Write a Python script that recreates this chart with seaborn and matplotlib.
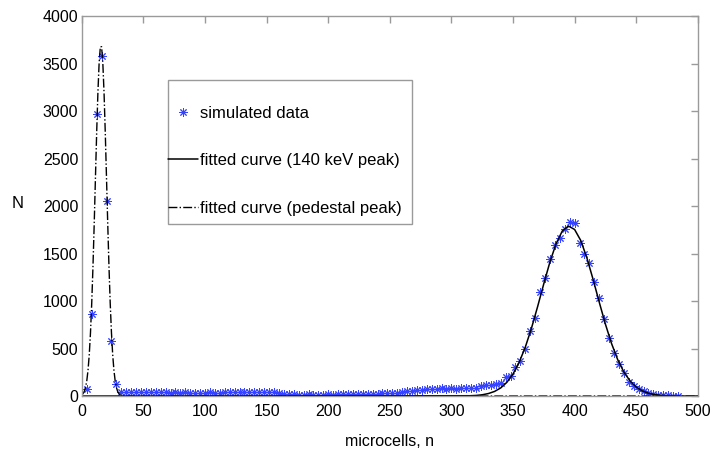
import numpy as np
import seaborn as sns
import matplotlib.pyplot as plt
from matplotlib.patches import Rectangle

# simulated spectrum, one value every 4 microcells (4 ... 484)
counts = [70, 860, 2975, 3585, 2050, 580, 127, 45, 38, 42,
          40, 44, 38, 40, 42, 39, 41, 37, 40, 36,
          38, 35, 37, 34, 36, 38, 35, 37, 39, 42,
          40, 44, 46, 43, 45, 41, 44, 40, 38, 33,
          26, 20, 18, 15, 14, 16, 13, 15, 14, 16,
          15, 17, 16, 18, 17, 19, 20, 22, 24, 26,
          28, 30, 33, 37, 42, 48, 55, 60, 66, 72,
          76, 78, 80, 77, 80, 78, 82, 85, 84, 88,
          105, 112, 115, 122, 134, 200, 210, 303, 374, 494,
          681, 822, 1093, 1245, 1446, 1587, 1661, 1757, 1834, 1827,
          1616, 1492, 1404, 1203, 1034, 812, 611, 452, 335, 247,
          151, 109, 71, 49, 28, 18, 12, 8, 6, 5,
          4]
microcells = np.arange(4, 4 * len(counts) + 4, 4)

# fitted curve, 140 keV photopeak
peak_x = [0, 315, 320, 325, 330, 335, 340, 345, 350, 355, 360, 365, 370,
          375, 380, 385, 390, 395, 400, 405, 410, 415, 420, 425, 430, 435,
          440, 445, 450, 455, 460, 465, 470, 475, 480, 485, 500]
peak_fit = [0, 3, 6, 13, 26, 48, 85, 144, 232, 354, 515, 714, 942,
            1182, 1412, 1605, 1737, 1790, 1754, 1638, 1454, 1229, 989, 758, 553, 383,
            253, 159, 95, 54, 29, 15, 7, 3, 1, 0, 0]

# fitted curve, pedestal peak
ped_x = list(range(0, 36)) + [500]
ped_fit = [13, 26, 50, 92, 162, 273, 438, 670, 979, 1362,
           1809, 2293, 2770, 3192, 3508, 3678, 3678, 3508, 3192, 2770,
           2293, 1809, 1362, 979, 670, 438, 273, 162, 92, 50,
           26, 13, 6, 3, 1, 0, 0]

sns.set_theme(style="white")
plt.rcParams["font.family"] = ["Liberation Sans", "DejaVu Sans"]
plt.rcParams["text.color"] = "black"
plt.rcParams["axes.labelcolor"] = "black"

fig, ax = plt.subplots(figsize=(7.12, 4.49), dpi=100)
fig.subplots_adjust(left=0.115, right=0.980, top=0.964, bottom=0.118)

sns.lineplot(x=microcells, y=counts, ax=ax, estimator=None, sort=False,
             linestyle="", marker=(8, 2, 0), markersize=6,
             markeredgecolor="#3542ff", markeredgewidth=0.7,
             color="#3542ff", label="simulated data")
sns.lineplot(x=peak_x, y=peak_fit, ax=ax, estimator=None, sort=False,
             color="black", linewidth=1.1, label="fitted curve (140 keV peak)")
sns.lineplot(x=ped_x, y=ped_fit, ax=ax, estimator=None, sort=False,
             color="black", linewidth=1.0, linestyle="-.",
             label="fitted curve (pedestal peak)")

ax.set_xlim(0, 500)
ax.set_ylim(0, 4000)
ax.set_xticks(range(0, 501, 50))
ax.set_yticks(range(0, 4001, 500))

for side in ax.spines.values():
    side.set_color("#9a9a9a")
    side.set_linewidth(1.0)
ax.tick_params(direction="in", top=True, right=True, length=5, width=1,
               color="#9a9a9a", labelsize=11.5, labelcolor="black")
ax.tick_params(axis="x", pad=6)
ax.tick_params(axis="y", pad=2.5)

ax.set_xlabel("microcells, n", fontsize=11.5)
ax.set_ylabel("N", fontsize=12, rotation=0, ha="center", va="center")
ax.xaxis.set_label_coords(0.5, -0.10)
ax.yaxis.set_label_coords(-0.105, 0.508)

# legend without its own frame; box drawn separately like the MATLAB one
ax.legend(loc="upper left", bbox_to_anchor=(0.1396, 0.764),
          borderaxespad=0, fontsize=12, frameon=False, borderpad=0,
          labelspacing=1.95, handlelength=1.8, handletextpad=0.15)
ax.add_patch(Rectangle((0.1396, 0.4526), 0.3961, 0.379, transform=ax.transAxes,
                       fill=True, facecolor="white", edgecolor="#9a9a9a",
                       linewidth=1.0, zorder=4))
ax.get_legend().set_zorder(5)

fig.savefig("out.png", dpi=100)
